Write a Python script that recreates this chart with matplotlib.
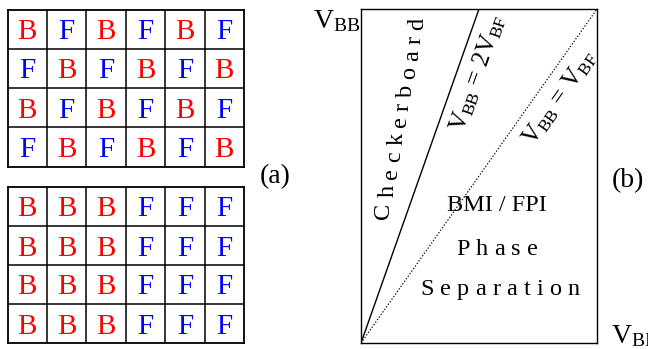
import matplotlib
matplotlib.use("Agg")
import matplotlib.pyplot as plt
import matplotlib.transforms as mtransforms
import numpy as np

plt.rcParams['font.family'] = ['Liberation Serif', 'DejaVu Serif']
plt.rcParams['mathtext.fontset'] = 'custom'
plt.rcParams['mathtext.rm'] = 'Liberation Serif'
plt.rcParams['mathtext.it'] = 'Liberation Serif:italic'

# ---- data ----
checker_rows = ["BFBFBF", "FBFBFB", "BFBFBF", "FBFBFB"]
separated_rows = ["BBBFFF", "BBBFFF", "BBBFFF", "BBBFFF"]
letter_colors = {"B": "#ff0000", "F": "#0000ff"}
vbf = np.array([0.0, 1.0])
slope_checker = 2.0   # V_BB = 2 V_BF
slope_equal = 1.0     # V_BB = V_BF

W, H = 648, 349
fig = plt.figure(figsize=(W / 100, H / 100), dpi=100)
fig.patch.set_facecolor('white')
ident = mtransforms.IdentityTransform()


def px_axes(left, top, right, bottom):
    return fig.add_axes([left / W, (H - bottom) / H, (right - left) / W, (bottom - top) / H])


def grid_panel(rows, box):
    ax = px_axes(*box)
    nr, nc = len(rows), len(rows[0])
    ax.set_xlim(0, nc)
    ax.set_ylim(nr, 0)
    ax.set_xticks([]); ax.set_yticks([])
    for s in ax.spines.values():
        s.set_linewidth(1.3); s.set_color('black')
    for i in range(1, nc):
        ax.axvline(i, color='black', lw=1.1)
    for j in range(1, nr):
        ax.axhline(j, color='black', lw=1.1)
    for r, row in enumerate(rows):
        for c, ch in enumerate(row):
            ax.text(c + 0.5, r + 0.5, ch, color=letter_colors[ch], fontsize=21,
                    ha='center', va='center_baseline')
    return ax


grid_panel(checker_rows, (7.5, 9.5, 244, 166.5))
grid_panel(separated_rows, (7.5, 187, 244, 343))

fig.text(275 / W, (H - 183) / H, "(a)", fontsize=20, ha='center', va='baseline')
fig.text(628 / W, (H - 187) / H, "(b)", fontsize=20, ha='center', va='baseline')

# ---- panel (b) ----
axb = px_axes(361, 9, 597, 343)
axb.set_xlim(0, 1); axb.set_ylim(0, 1)
axb.set_xticks([]); axb.set_yticks([])
for s in axb.spines.values():
    s.set_linewidth(1.0); s.set_color('black')
axb.plot(vbf, slope_checker * vbf, color='black', lw=1.0, clip_on=True)
axb.plot(vbf, slope_equal * vbf, color='black', lw=0.9, linestyle=(0, (1, 1.5)))

fig.text(313 / W, (H - 28) / H, r'$\mathrm{V}_{\mathrm{BB}}$', fontsize=20, ha='left', va='baseline')
fig.text(611 / W, (H - 343) / H, r'$\mathrm{V}_{\mathrm{BF}}$', fontsize=20, ha='left', va='baseline')

renderer = fig.canvas.get_renderer()


def char_widths(s, size):
    ws = []
    for ch in s:
        t = fig.text(0, 0, ch, fontsize=size)
        ws.append(t.get_window_extent(renderer).width)
        t.remove()
    return ws


def tracked_h(s, xc, ybase, size, gap):
    ws = char_widths(s, size)
    total = sum(ws) + gap * (len(s) - 1)
    x = xc - total / 2
    for ch, w in zip(s, ws):
        fig.text(x, H - ybase, ch, fontsize=size, ha='left', va='baseline', transform=ident)
        x += w + gap


label_size = 17.5
tracked_h("Phase", 497, 255, label_size, 6.0)
tracked_h("Separation", 500, 295, label_size, 6.2)
fig.text(497 / W, (H - 211) / H, "BMI / FPI", fontsize=label_size, ha='center', va='baseline')

# Checkerboard: letters rotated 90, along a slanted baseline
word = "Checkerboard"
ws = char_widths(word, label_size)
total = sum(ws)
gap_c = (201 - total) / (len(word) - 1)
y0, x0, dxdy = 219.0, 389.5, 0.18
pos = 0.0
for ch, w in zip(word, ws):
    yy = y0 - pos
    xx = x0 + dxdy * pos
    fig.text(xx, H - yy, ch, fontsize=label_size, rotation=90, rotation_mode='anchor',
             ha='left', va='baseline', transform=ident)
    pos += w + gap_c

# labels along the lines
ang_checker = np.degrees(np.arctan2(334, 119))
ang_equal = np.degrees(np.arctan2(334, 236))
fig.text(478, H - 73, r'$\mathrm{V}_{\mathrm{BB}}\,=\,2\mathrm{V}_{\mathrm{BF}}$', fontsize=18,
         rotation=ang_checker, rotation_mode='anchor', ha='center', va='center', transform=ident)
fig.text(560, H - 98, r'$\mathrm{V}_{\mathrm{BB}}\,=\,\mathrm{V}_{\mathrm{BF}}$', fontsize=18,
         rotation=ang_equal, rotation_mode='anchor', ha='center', va='center', transform=ident)

fig.savefig("out.png", dpi=100, facecolor='white')
